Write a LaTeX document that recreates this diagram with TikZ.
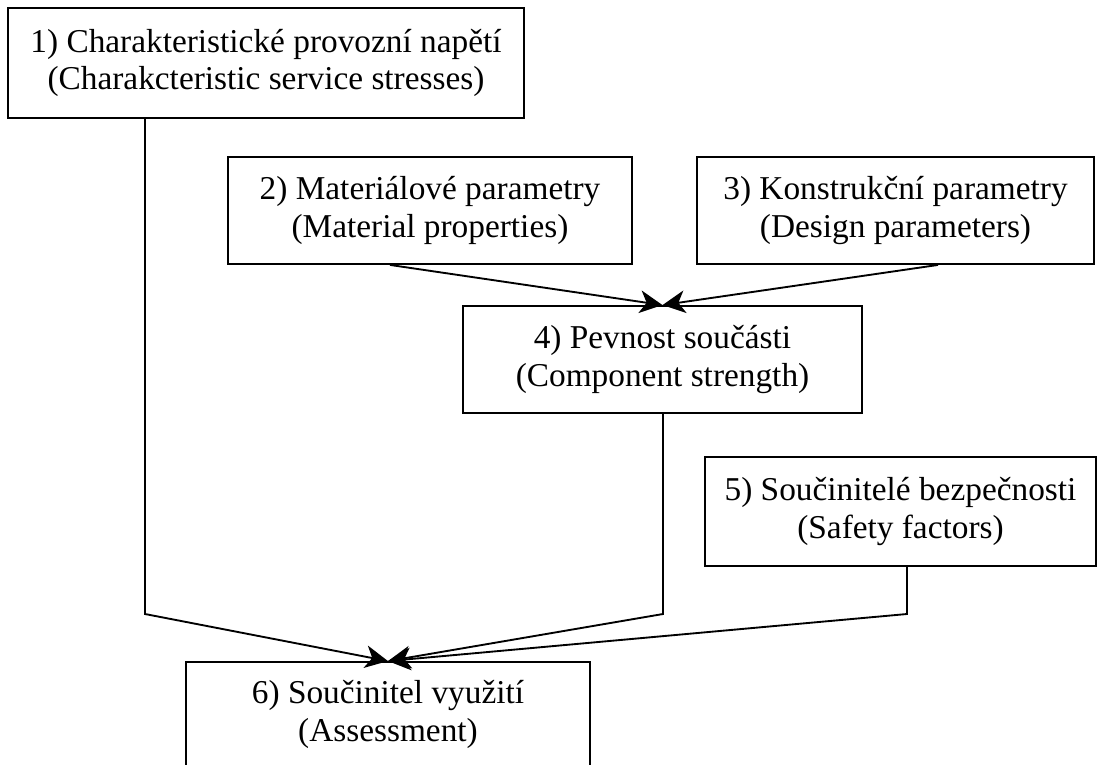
\documentclass[tikz,border=0pt]{standalone}
\usepackage{fontspec}
\setmainfont{Liberation Serif}
\usetikzlibrary{arrows.meta}
\begin{document}
\begin{tikzpicture}[x=0.75pt,y=-0.75pt,
  box/.style={draw,line width=1.4pt,align=center,inner sep=0pt,font=\fontsize{25}{28}\selectfont},
  link/.style={line width=1.4pt},
  arr/.style={link,-{Stealth[length=17pt,width=17pt,inset=5pt]}}]
\useasboundingbox (0,0) rectangle (1102,764);
\node[box,minimum width=516*0.75pt,minimum height=110*0.75pt] (b1) at (266,63)
  {1) Charakteristické provozní napětí\\(Charakcteristic service stresses)};
\node[box,minimum width=404*0.75pt,minimum height=107*0.75pt] (b2) at (430,210.5)
  {2) Materiálové parametry\\(Material properties)};
\node[box,minimum width=397*0.75pt,minimum height=107*0.75pt] (b3) at (895.5,210.5)
  {3) Konstrukční parametry\\(Design parameters)};
\node[box,minimum width=399*0.75pt,minimum height=107*0.75pt] (b4) at (662.5,359.5)
  {4) Pevnost součásti\\(Component strength)};
\node[box,minimum width=391*0.75pt,minimum height=109*0.75pt] (b5) at (900.5,511.5)
  {5) Součinitelé bezpečnosti\\(Safety factors)};
\node[box,minimum width=404*0.75pt,minimum height=105*0.75pt] (b6) at (388,714.5)
  {6) Součinitel využití\\(Assessment)};
\coordinate (k1) at (145,614);
\coordinate (k4) at (663,614);
\coordinate (k5) at (907,614);
\draw[arr] ([xshift=-30pt]b2.south) -- (b4.north);
\draw[arr] ([xshift=31.9pt]b3.south) -- (b4.north);
\draw[arr] (b1.south west -| k1) -- (k1) -- (b6.north);
\draw[arr] (b4.south -| k4) -- (k4) -- (b6.north);
\draw[arr] (b5.south -| k5) -- (k5) -- (b6.north);
\end{tikzpicture}
\end{document}
